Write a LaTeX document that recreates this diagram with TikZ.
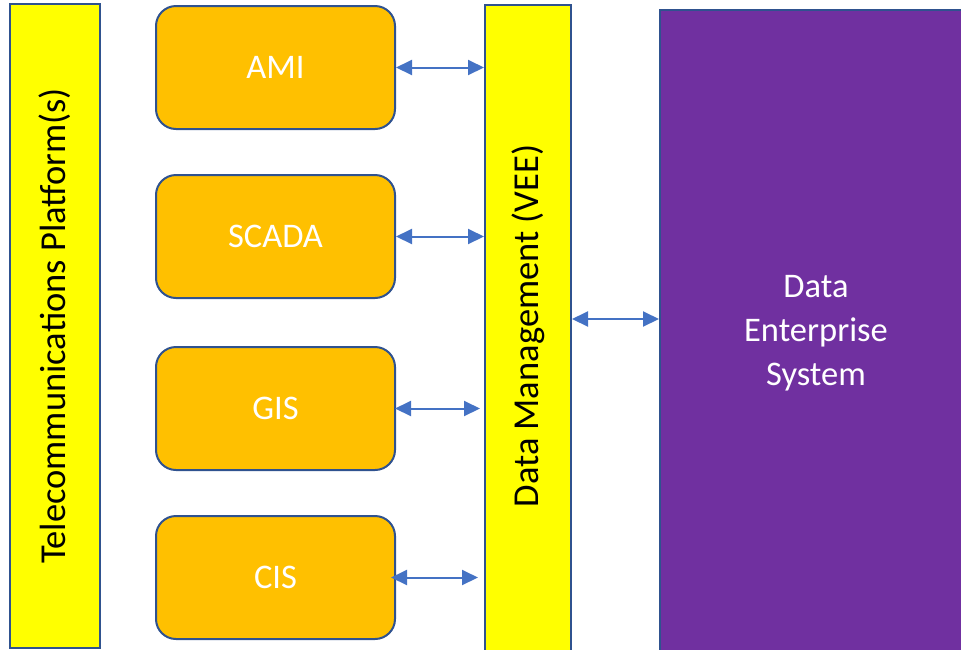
\documentclass[tikz,border=0pt]{standalone}
\usepackage{fontspec}
\setmainfont{Carlito}
\usetikzlibrary{arrows.meta}

\definecolor{barYellow}{HTML}{FFFF00}
\definecolor{sysOrange}{HTML}{FFC000}
\definecolor{entPurple}{HTML}{7030A0}
\definecolor{edgeBlue}{HTML}{2F528F}
\definecolor{linkBlue}{HTML}{4472C4}

\begin{document}
\begin{tikzpicture}[
    x=1pt, y=-1pt,
    bar/.style={rectangle, draw=edgeBlue, line width=2pt, fill=barYellow, rotate=90, font=\fontsize{36.5}{40}\selectfont, text=black},
    system/.style={rectangle, rounded corners=20pt, draw=edgeBlue, line width=2pt, fill=sysOrange, minimum width=239pt, minimum height=123pt, font=\fontsize{34.5}{40}\selectfont, text=white},
    enterprise/.style={rectangle, draw=edgeBlue, line width=2pt, fill=entPurple, minimum width=312pt, minimum height=660pt},
    arrow/.style={{Triangle[length=16pt,width=15pt]}-{Triangle[length=16pt,width=15pt]}, draw=linkBlue, line width=2pt}
]
\useasboundingbox (0,0) rectangle (961,649);
\clip (0,0) rectangle (961,649);

% Telecom platform
\node[bar, minimum width=644pt, minimum height=90pt] (telecom) at (55,326) {Telecommunications Platform(s)};

% Systems
\node[system] (ami) at (275.5,67.5) {AMI};
\node[system] (scada) at (275.5,236.5) {SCADA};
\node[system] (gis) at (275.5,408.5) {GIS};
\node[system] (cis) at (275.5,577.5) {CIS};

% Data management
\node[bar, minimum width=680pt, minimum height=86pt] (vee) at (528,345) {};
\node[rotate=90, font=\fontsize{36.5}{40}\selectfont] (veelabel) at (528,326) {Data Management (VEE)};

% Enterprise system
\node[enterprise] (des) at (816,340) {};
\node[text width=200pt, align=center, text=white, font=\fontsize{34.5}{44}\selectfont] (deslabel) at (816,333) {Data\\Enterprise\\System};

% Arrows
\coordinate (link) at (616,319);
\draw[arrow] (ami.east) -- (ami.east -| vee.north);
\draw[arrow] (scada.east) -- (scada.east -| vee.north);
\draw[arrow, shorten <=-1pt, shorten >=4pt] (gis.east) -- (gis.east -| vee.north);
\draw[arrow, shorten <=-5pt, shorten >=6pt] (cis.east) -- (cis.east -| vee.north);
\draw[arrow] (link -| vee.south) -- (link -| des.west);

\end{tikzpicture}
\end{document}
